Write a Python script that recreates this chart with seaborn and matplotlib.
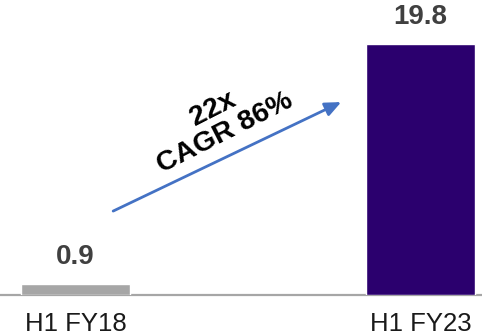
import matplotlib
matplotlib.use("Agg")
import matplotlib.pyplot as plt
import seaborn as sns
import pandas as pd

periods = ["H1 FY18", "H1 FY23"]
values = [0.9, 19.8]
bar_colors = ["#A6A6A6", "#2B006E"]
growth_note = "22x\nCAGR 86%"

sns.set_theme(style="white")
plt.rcParams["font.family"] = ["Liberation Sans", "DejaVu Sans"]

df = pd.DataFrame({"period": periods, "value": values})

fig = plt.figure(figsize=(4.82, 3.35), dpi=100)
ax = fig.add_axes([0, 40 / 335, 1, 295 / 335])

sns.barplot(data=df, x="period", y="value", hue="period",
            palette=bar_colors, width=0.316, legend=False, ax=ax,
            saturation=1)

for container in ax.containers:
    ax.bar_label(container, fmt="%.1f", padding=10, fontsize=20,
                 fontweight="bold", color="#404040")

ax.set_xlim(-0.219, 1.178)
ax.set_ylim(0, 23.27)
ax.axhline(0, color="#A6A6A6", lw=1.6, clip_on=False, zorder=0)

sns.despine(ax=ax, left=True, bottom=True, top=True, right=True)
ax.set_yticks([])
ax.set_xlabel("")
ax.set_ylabel("")
ax.tick_params(axis="x", length=0, pad=12, labelsize=18.5, labelcolor="#1a1a1a")

# growth arrow between the two periods
ax.annotate("", xy=(0.770, 15.22), xytext=(0.109, 6.62),
            arrowprops=dict(arrowstyle="-|>,head_length=0.8,head_width=0.35",
                            color="#4472C4", lw=2, shrinkA=0, shrinkB=0))
ax.text(0.415, 13.7, growth_note, rotation=27, rotation_mode="anchor",
        ha="center", va="center", multialignment="center",
        fontsize=20.5, fontweight="bold", color="black", linespacing=1.05)

fig.savefig("out.png", dpi=100)
